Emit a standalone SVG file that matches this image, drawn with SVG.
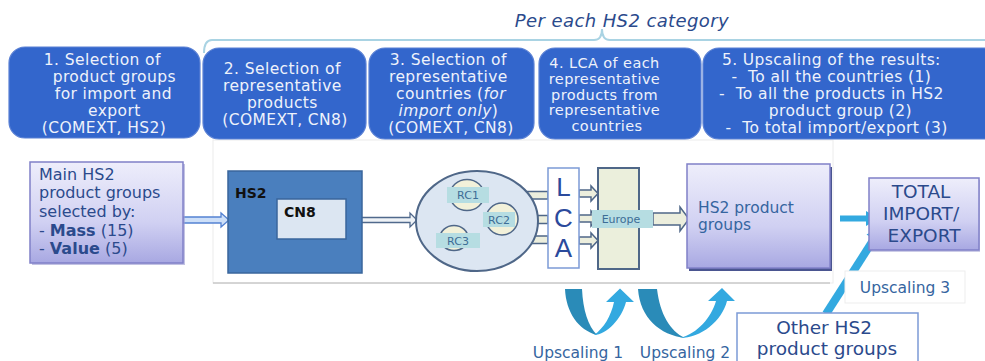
<svg xmlns="http://www.w3.org/2000/svg" width="985" height="361" viewBox="0 0 985 361">
  <defs>
    <linearGradient id="lav" x1="0" y1="0" x2="0" y2="1">
      <stop offset="0" stop-color="#eeeefb"/>
      <stop offset="0.6" stop-color="#d0d0f2"/>
      <stop offset="1" stop-color="#a8a8e2"/>
    </linearGradient>
    <style>
      .step { fill: #3366cc; stroke: #5a80d4; stroke-width: 1.2; }
      .steptxt { font-family: "DejaVu Sans", Verdana, sans-serif; font-size: 15.5px; letter-spacing: 0.4px; fill: #eef2fb; text-anchor: middle; }
      .lav { fill: url(#lav); stroke: #8080c8; stroke-width: 1.5; }
      .dk { font-family: "DejaVu Sans", Verdana, sans-serif; fill: #2b4a8c; }
      .md { font-family: "DejaVu Sans", Verdana, sans-serif; fill: #3565a0; }
      .hollow { fill: #eceedd; stroke: #4f6788; stroke-width: 1.5; }
      .tag { fill: #b6dde2; }
      .tagtxt { font-family: "DejaVu Sans", Verdana, sans-serif; font-size: 11px; fill: #3d6d96; text-anchor: middle; }
      .rc { fill: #f2f1da; stroke: #4f6788; stroke-width: 1.5; }
      .blue { fill: #33a9e0; }
      .bluedk { fill: #2a8bb8; }
    </style>
  </defs>

  <!-- background -->
  <rect width="985" height="361" fill="#ffffff"/>

  <!-- central process panel -->
  <g id="panel">
    <rect x="213" y="140" width="620" height="143" fill="#ffffff" stroke="#ececec" stroke-width="1"/>
    <line x1="213" y1="283" x2="830" y2="283" stroke="#b4b4b4" stroke-width="1.2"/>
  </g>

  <!-- bracket over steps 2-5 -->
  <g id="bracket">
    <path d="M204,53 Q204,40 212,40 H594 Q602,40 602,29 Q602,40 610,40 H985" fill="none" stroke="#a9d3e3" stroke-width="2"/>
    <text x="622" y="27" class="dk" font-size="18" letter-spacing="0.4" font-style="italic" text-anchor="middle">Per each HS2 category</text>
  </g>

  <!-- method steps -->
  <g id="step1">
    <rect x="9" y="47" width="191" height="91" rx="16" class="step"/>
    <text class="steptxt">
      <tspan x="105" y="65">1. Selection of</tspan>
      <tspan x="117" y="82">product groups</tspan>
      <tspan x="116" y="99">for import and</tspan>
      <tspan x="117" y="116">export</tspan>
      <tspan x="104" y="133">(COMEXT, HS2)</tspan>
    </text>
  </g>
  <g id="step2">
    <rect x="203" y="48" width="163" height="91" rx="16" class="step"/>
    <text class="steptxt">
      <tspan x="285" y="74">2. Selection of</tspan>
      <tspan x="285" y="91">representative</tspan>
      <tspan x="285" y="108">products</tspan>
      <tspan x="285" y="125">(COMEXT, CN8)</tspan>
    </text>
  </g>
  <g id="step3">
    <rect x="369" y="48" width="165" height="91" rx="16" class="step"/>
    <text class="steptxt">
      <tspan x="451" y="65">3. Selection of</tspan>
      <tspan x="451" y="82">representative</tspan>
      <tspan x="451" y="99">countries (<tspan font-style="italic">for</tspan></tspan>
    </text>
    <text class="steptxt">
      <tspan x="451" y="116"><tspan font-style="italic">import only</tspan>)</tspan>
      <tspan x="451" y="133">(COMEXT, CN8)</tspan>
    </text>
  </g>
  <g id="step4">
    <rect x="539" y="48" width="162" height="91" rx="16" class="step"/>
    <text class="steptxt" style="font-size:14.5px">
      <tspan x="607" y="68">4. LCA of each</tspan>
      <tspan x="607" y="84">representative</tspan>
      <tspan x="607" y="100">products from</tspan>
      <tspan x="607" y="115">representative</tspan>
      <tspan x="607" y="131">countries</tspan>
    </text>
  </g>
  <g id="step5">
    <rect x="703" y="48" width="296" height="91" rx="16" class="step"/>
    <text class="steptxt" xml:space="preserve">
      <tspan x="850" y="65">5. Upscaling of the results:</tspan>
      <tspan x="850" y="82">-  To all the countries (1)</tspan>
      <tspan x="850" y="99">-  To all the products in HS2</tspan>
      <tspan x="859" y="116">product group (2)</tspan>
      <tspan x="850" y="133">-  To total import/export (3)</tspan>
    </text>
  </g>

  <!-- connectors -->
  <g id="connectors">
    <!-- selection -> HS2 -->
    <path d="M183,217 H221 V213 L229,220 L221,227 V223 H183 Z" fill="#cddff8" stroke="#5482d2" stroke-width="1.3"/>
    <!-- CN8 -> countries -->
    <path d="M346,217.5 H410 V213 L417,220 L410,227 V222.5 H346 Z" fill="#eef2f6" stroke="#50698c" stroke-width="1.3"/>
    <!-- countries -> LCA -->
    <rect x="489" y="191.5" width="59" height="7.5" class="hollow"/>
    <rect x="515" y="215.5" width="33" height="8" class="hollow"/>
    <rect x="480" y="236" width="68" height="7.5" class="hollow"/>
    <!-- LCA -> Europe -->
    <path d="M579,190 H591 V186 L598,193.5 L591,201 V197 H579 Z" class="hollow"/>
    <path d="M579,215 H591 V211 L598,218.5 L591,226 V222 H579 Z" class="hollow"/>
    <path d="M579,237 H591 V233 L598,240.5 L591,248 V244 H579 Z" class="hollow"/>
    <!-- Europe -> HS2 product groups -->
    <path d="M653,213 H680 V207 L689,219 L680,231 V225 H653 Z" class="hollow"/>
    <!-- HS2 product groups -> total -->
    <rect x="840" y="215.5" width="28" height="6" class="blue"/>
    <polygon points="866,211 879,218.5 866,226" class="blue"/>
    <!-- other groups -> total -->
    <line x1="826" y1="314" x2="874" y2="239" stroke="#33a9e0" stroke-width="8"/>
    <polygon points="881,227 880.5,243.5 866.5,234.5" class="blue"/>
    <!-- upscaling 1 -->
    <path d="M565,289 L582,289 C583,310 588,326 597,335 C578,330 566,312 565,289 Z" class="bluedk"/>
    <path d="M594,335 C607,335 622,318 626,302 L634,302 L620,288.5 L606,302 L614,302 C611,316 604,328 594,335 Z" class="blue"/>
    <!-- upscaling 2 -->
    <path d="M638,289 L657,289 C660,314 670,331 685,338 C660,335 640,318 638,289 Z" class="bluedk"/>
    <path d="M680,338 C701,338 722,321 727,301 L735,301 L722,288 L708,301 L716,301 C711,318 698,333 680,338 Z" class="blue"/>
  </g>

  <!-- nodes -->
  <g id="main-groups">
    <rect x="32" y="164" width="153" height="101" fill="#9a9ad0" opacity="0.6"/>
    <rect x="30" y="162" width="153" height="101" class="lav"/>
    <text class="dk" font-size="16">
      <tspan x="39" y="180">Main HS2</tspan>
      <tspan x="39" y="198">product groups</tspan>
      <tspan x="39" y="217">selected by:</tspan>
      <tspan x="39" y="236">- <tspan font-weight="bold">Mass</tspan> (15)</tspan>
      <tspan x="39" y="254">- <tspan font-weight="bold">Value</tspan> (5)</tspan>
    </text>
  </g>

  <g id="hs2">
    <rect x="228" y="171" width="134" height="102" fill="#4a7fbe" stroke="#3a669c" stroke-width="1.5"/>
    <text x="235" y="198" font-family="'DejaVu Sans', Verdana, sans-serif" font-size="14" font-weight="bold" fill="#111">HS2</text>
  </g>
  <g id="cn8">
    <rect x="277" y="199" width="69" height="40" fill="#dce6f2" stroke="#3a669c" stroke-width="1.5"/>
    <text x="284" y="217" font-family="'DejaVu Sans', Verdana, sans-serif" font-size="14" font-weight="bold" fill="#111">CN8</text>
  </g>

  <g id="countries">
    <ellipse cx="477" cy="221" rx="61" ry="50" fill="#dce6f2" stroke="#4f6788" stroke-width="2"/>
    <ellipse cx="467" cy="195" rx="17" ry="15.5" class="rc"/>
    <ellipse cx="502" cy="219" rx="16" ry="16" class="rc"/>
    <ellipse cx="454" cy="238" rx="14" ry="12.5" class="rc"/>
    <rect x="447" y="187" width="42" height="16" class="tag"/>
    <text x="468" y="199" class="tagtxt">RC1</text>
    <rect x="483" y="212" width="32" height="15" class="tag"/>
    <text x="499" y="224" class="tagtxt">RC2</text>
    <rect x="436" y="233" width="44" height="15" class="tag"/>
    <text x="458" y="245" class="tagtxt">RC3</text>
  </g>

  <g id="lca">
    <rect x="548" y="168" width="31" height="100" fill="#ffffff" stroke="#7c9ad6" stroke-width="1.5"/>
    <g font-family="'Liberation Sans', Arial, sans-serif" font-size="26" fill="#2b4a9c" text-anchor="middle">
      <text x="563.5" y="196">L</text>
      <text x="563.5" y="227">C</text>
      <text x="563.5" y="257">A</text>
    </g>
  </g>

  <g id="europe">
    <rect x="598" y="168" width="41" height="101" fill="#ebefdc" stroke="#4f6788" stroke-width="2"/>
    <rect x="592" y="210" width="61" height="18" class="tag"/>
    <text x="621" y="223" class="tagtxt">Europe</text>
  </g>

  <g id="hs2-groups">
    <rect x="689" y="167" width="143" height="104" fill="#4a5590"/>
    <rect x="687" y="164" width="143" height="104" class="lav"/>
    <text class="md" font-size="15.5">
      <tspan x="698" y="213">HS2 product</tspan>
      <tspan x="698" y="230">groups</tspan>
    </text>
  </g>

  <g id="total">
    <rect x="870" y="180" width="110" height="72" fill="#9a9ad0" opacity="0.5"/>
    <rect x="869" y="178" width="110" height="72" class="lav"/>
    <text class="dk" font-size="18.5" text-anchor="middle">
      <tspan x="924" y="198">TOTAL</tspan>
      <tspan x="924" y="220">IMPORT/</tspan>
      <tspan x="924" y="242">EXPORT</tspan>
    </text>
  </g>

  <g id="upscaling3">
    <rect x="845" y="271" width="120" height="32" fill="#ffffff" stroke="#ededed" stroke-width="1"/>
    <text x="905" y="293" class="md" font-size="15.5" text-anchor="middle">Upscaling 3</text>
  </g>

  <g id="other-groups">
    <rect x="737" y="313" width="181" height="60" fill="#ffffff" stroke="#7c9ad6" stroke-width="1.5"/>
    <text class="dk" font-size="18.5" text-anchor="middle">
      <tspan x="827" y="334">Other HS2</tspan>
      <tspan x="827" y="355">product groups</tspan>
    </text>
  </g>

  <g id="upscaling-labels" class="md" font-size="15.5" text-anchor="middle">
    <text x="578" y="358">Upscaling 1</text>
    <text x="685" y="358">Upscaling 2</text>
  </g>
</svg>
